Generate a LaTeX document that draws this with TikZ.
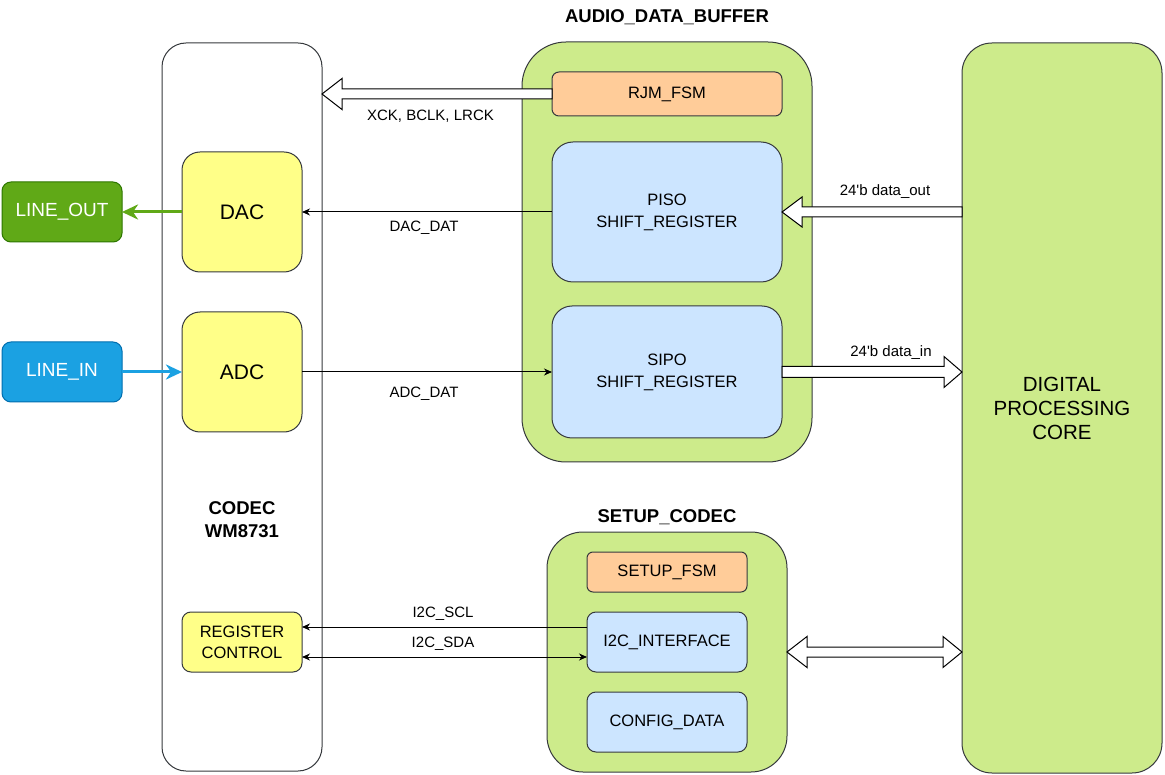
\documentclass[tikz,border=0pt]{standalone}
\usepackage{fontspec}
\setmainfont{Liberation Sans}
\usetikzlibrary{arrows.meta,calc}
\definecolor{strk}{HTML}{36393D}
\definecolor{ylw}{HTML}{FFFF88}
\definecolor{grn}{HTML}{CDEB8B}
\definecolor{blu}{HTML}{CCE5FF}
\definecolor{org}{HTML}{FFCC99}
\definecolor{lofill}{HTML}{60A917}
\definecolor{lostrk}{HTML}{2D7600}
\definecolor{lifill}{HTML}{1BA1E2}
\definecolor{listrk}{HTML}{006EAF}
\tikzset{
  boxbase/.style={draw=strk, line width=1pt, inner sep=0pt, outer sep=0pt, align=center, text=black},
  ylwbox/.style={boxbase, fill=ylw},
  grnbox/.style={boxbase, fill=grn},
  blubox/.style={boxbase, fill=blu, font=\fontsize{16.5}{22}\selectfont},
  orgbox/.style={boxbase, fill=org, font=\fontsize{16.5}{20}\selectfont},
  edgelbl/.style={font=\fontsize{15}{18}\selectfont, inner sep=0pt},
  titlelbl/.style={font=\fontsize{18.5}{23}\selectfont\bfseries, inner sep=0pt, align=center},
  thinarr/.style={draw=black, line width=1pt, -{Stealth[length=8pt,width=7pt,inset=2.5pt]}},
  thinarrboth/.style={draw=black, line width=1pt, {Stealth[length=8pt,width=7pt,inset=2.5pt]}-{Stealth[length=8pt,width=7pt,inset=2.5pt]}},
  blockarr/.style={draw=black, fill=white, line width=1pt, line join=miter},
}
\begin{document}
\begin{tikzpicture}[x=1pt,y=-1pt]
\useasboundingbox (0,0) rectangle (1165,775);
\fill[white] (0,0) rectangle (1165,775);

% containers
\node[boxbase, fill=white, rounded corners=24pt, minimum width=160pt, minimum height=728pt] (codec) at (242,407) {};
\node[grnbox, rounded corners=44pt, minimum width=290pt, minimum height=420pt] (adb) at (667,252) {};
\node[grnbox, rounded corners=36pt, minimum width=240pt, minimum height=240pt] (setup) at (667,652) {};
\node[grnbox, rounded corners=30pt, minimum width=200pt, minimum height=730pt, font=\fontsize{20.5}{24}\selectfont] (core) at (1062,408) {DIGITAL\\PROCESSING\\CORE};

% titles
\node[titlelbl] (adbt) at (667,17) {AUDIO\_DATA\_BUFFER};
\node[titlelbl] (setupt) at (667,517) {SETUP\_CODEC};
\node[titlelbl] (codect) at (242,519.5) {CODEC\\WM8731};

% codec inner
\node[ylwbox, rounded corners=18pt, minimum width=120pt, minimum height=120pt, font=\fontsize{21}{24}\selectfont] (dac) at (242,212) {DAC};
\node[ylwbox, rounded corners=18pt, minimum width=120pt, minimum height=120pt, font=\fontsize{21}{24}\selectfont] (adc) at (242,372) {ADC};
\node[ylwbox, rounded corners=9pt, minimum width=120pt, minimum height=60pt, font=\fontsize{16.5}{21}\selectfont] (reg) at (242,642) {REGISTER\\CONTROL};

% line in/out
\node[boxbase, fill=lofill, draw=lostrk, text=white, rounded corners=9pt, minimum width=120pt, minimum height=60pt, font=\fontsize{19}{22}\selectfont] (lineout) at (62,212) {LINE\_OUT};
\node[boxbase, fill=lifill, draw=listrk, text=white, rounded corners=9pt, minimum width=120pt, minimum height=60pt, font=\fontsize{19}{22}\selectfont] (linein) at (62,372) {LINE\_IN};

% audio data buffer inner
\node[orgbox, rounded corners=7pt, minimum width=230pt, minimum height=44pt] (rjm) at (667,94) {RJM\_FSM};
\node[blubox, rounded corners=21pt, minimum width=230pt, minimum height=140pt] (piso) at (667,212) {PISO\\SHIFT\_REGISTER};
\node[blubox, rounded corners=20pt, minimum width=230pt, minimum height=132pt] (sipo) at (667,372) {SIPO\\SHIFT\_REGISTER};

% setup codec inner
\node[orgbox, rounded corners=6pt, minimum width=160pt, minimum height=40pt] (sfsm) at (667,572) {SETUP\_FSM};
\node[blubox, rounded corners=9pt, minimum width=160pt, minimum height=60pt] (i2c) at (667,642) {I2C\_INTERFACE};
\node[blubox, rounded corners=9pt, minimum width=160pt, minimum height=60pt] (cfg) at (667,722) {CONFIG\_DATA};

% thin connectors
\draw[thinarr] (piso.west) -- (dac.east);
\draw[thinarr] (adc.east) -- (sipo.west);
\draw[thinarr] ($(i2c.west)+(0,-15)$) -- ($(reg.east)+(0,-15)$);
\draw[thinarrboth] ($(reg.east)+(0,15)$) -- ($(i2c.west)+(0,15)$);

% line in/out arrows
\draw[draw=lofill, line width=3pt, -{Stealth[length=16pt,width=15pt,inset=5pt]}] (dac.west) -- (lineout.east);
\draw[draw=lifill, line width=3pt, -{Stealth[length=16pt,width=15pt,inset=5pt]}] (linein.east) -- (adc.west);

% block arrows
\coordinate (xtip) at (codec.east |- rjm.west);
\draw[blockarr] ($(rjm.west)+(0,-5)$) -- ($(xtip)+(20,-5)$) -- ($(xtip)+(20,-15.5)$) -- (xtip) -- ($(xtip)+(20,15.5)$) -- ($(xtip)+(20,5)$) -- ($(rjm.west)+(0,5)$) -- cycle;

\coordinate (dotail) at (core.west |- piso.east);
\draw[blockarr] ($(dotail)+(0,-5)$) -- ($(piso.east)+(20,-5)$) -- ($(piso.east)+(20,-15)$) -- (piso.east) -- ($(piso.east)+(20,15)$) -- ($(piso.east)+(20,5)$) -- ($(dotail)+(0,5)$) -- cycle;

\coordinate (ditip) at (core.west |- sipo.east);
\draw[blockarr] ($(sipo.east)+(0,-5.5)$) -- ($(ditip)+(-18,-5.5)$) -- ($(ditip)+(-18,-15.5)$) -- (ditip) -- ($(ditip)+(-18,15.5)$) -- ($(ditip)+(-18,5.5)$) -- ($(sipo.east)+(0,5.5)$) -- cycle;

\coordinate (dbr) at (core.west |- setup.east);
\draw[blockarr] (setup.east) -- ($(setup.east)+(20,-15.5)$) -- ($(setup.east)+(20,-5)$) -- ($(dbr)+(-19,-5)$) -- ($(dbr)+(-19,-15.5)$) -- (dbr) -- ($(dbr)+(-19,15.5)$) -- ($(dbr)+(-19,5)$) -- ($(setup.east)+(20,5)$) -- ($(setup.east)+(20,15.5)$) -- cycle;

% edge labels
\node[edgelbl] (lxck) at (430.5,116) {XCK, BCLK, LRCK};
\node[edgelbl] (ldac) at (424,228) {DAC\_DAT};
\node[edgelbl] (ladc) at (424,394) {ADC\_DAT};
\node[edgelbl] (ldo) at (885,192) {24\textquotesingle b data\_out};
\node[edgelbl] (ldi) at (891,352.5) {24\textquotesingle b data\_in};
\node[edgelbl] (lscl) at (443,614) {I2C\_SCL};
\node[edgelbl] (lsda) at (443,644) {I2C\_SDA};
\end{tikzpicture}
\end{document}
